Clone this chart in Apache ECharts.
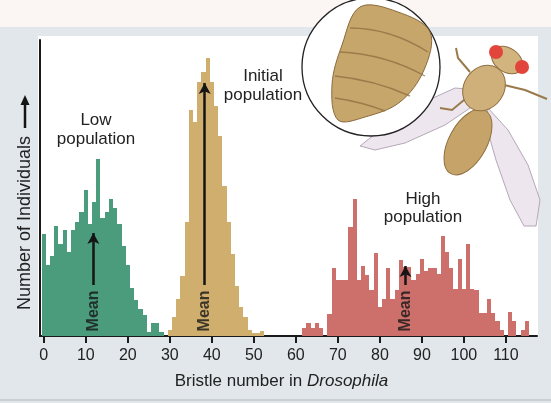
<!DOCTYPE html>
<html><head><meta charset="utf-8">
<script src="https://cdn.jsdelivr.net/npm/echarts@6/dist/echarts.min.js"></script>
<style>html,body{margin:0;padding:0;background:#e1e7eb}#c{width:551px;height:403px}</style>
</head><body><div id="c"></div>
<script>
// ---- data ----
const tickLabels = [0, 10, 20, 30, 40, 50, 60, 70, 80, 90, 100, 110];
const lowStart = 0;
const lowCounts = [102, 71, 80, 110, 92, 106, 84, 106, 114, 124, 146, 112, 134, 177, 118, 124, 137, 128, 112, 90, 71, 48, 36, 27, 21, 4, 13, 13, 4];
const initialStart = 30;
const initialCounts = [6, 19, 37, 60, 114, 226, 214, 254, 264, 278, 254, 230, 200, 150, 114, 82, 50, 29, 19, 6, 3, 3, 5];
const highStart = 62;
const highCounts = [8, 13, 8, 13, 8, 0, 22, 68, 56, 56, 56, 109, 137, 56, 70, 61, 46, 83, 29, 37, 68, 37, 46, 76, 69, 69, 56, 62, 77, 65, 68, 68, 62, 100, 84, 68, 47, 77, 47, 92, 47, 46, 23, 23, 37, 23, 15, 6, 0, 24, 15, 0, 6, 15];
const meanBristle = [11.8, 38.3, 86.1];
const meanArrowTop = [103, 253, 70];
const meanArrowBase = 51;
const meanLabelLevel = 25;
const annotations = ['Low\npopulation', 'Initial\npopulation', 'High\npopulation'];

const FONT = '"Liberation Sans", Arial, Helvetica, sans-serif';
const toPairs = (start, arr) => arr.map((v, i) => [start + i, v]);

function renderBin(params, api) {
  const x = api.value(0), h = api.value(1);
  const p0 = api.coord([x - 0.5, h]);
  const p1 = api.coord([x + 0.5, 0]);
  const x0 = Math.round(p0[0]), x1 = Math.round(p1[0]);
  return { type: 'rect', shape: { x: x0, y: p0[1], width: x1 - x0, height: p1[1] - p0[1] },
           style: { fill: api.visual('color') } };
}

const stripe = (x1, y1, cx, cy, x2, y2) => ({ type: 'bezierCurve', z: 32,
  shape: { x1: x1, y1: y1, cpx1: cx, cpy1: cy, x2: x2, y2: y2 },
  style: { fill: null, stroke: '#8a6a3c', lineWidth: 1.4, opacity: 0.7 } });

const chart = echarts.init(document.getElementById('c'), null, { renderer: 'canvas' });
chart.setOption({
  animation: false,
  backgroundColor: '#e1e7eb',
  textStyle: { fontFamily: FONT },
  grid: { left: 40, right: 14, top: 40, bottom: 67 },
  xAxis: {
    type: 'value', min: -0.9, max: 117.4,
    splitLine: { show: false },
    axisLine: { show: true, onZero: false, lineStyle: { color: '#1a1a1a', width: 2 } },
    axisTick: { show: true, customValues: tickLabels, length: 7, lineStyle: { color: '#1a1a1a', width: 2 } },
    axisLabel: { customValues: tickLabels, fontSize: 16, color: '#222', margin: 12, fontFamily: FONT },
    name: 'Bristle number in {i|Drosophila}', nameLocation: 'middle', nameGap: 37,
    nameTextStyle: { fontSize: 17, color: '#222', fontFamily: FONT, padding: [0, 14, 0, 0],
      rich: { i: { fontStyle: 'italic', fontSize: 17, color: '#222', fontFamily: FONT } } }
  },
  yAxis: {
    type: 'value', min: 0, max: 296,
    splitLine: { show: false }, axisTick: { show: false }, axisLabel: { show: false },
    axisLine: { show: true, onZero: false, lineStyle: { color: '#1a1a1a', width: 2 } },
    name: 'Number of Individuals', nameLocation: 'middle', nameRotate: 90, nameGap: 6,
    nameTextStyle: { fontSize: 18, color: '#222', fontFamily: FONT, padding: [0, 70, 0, 0] }
  },
  series: [
    { type: 'custom', name: 'Low population', renderItem: renderBin, itemStyle: { color: '#4b9b7d' },
      data: toPairs(lowStart, lowCounts), encode: { x: 0, y: 1 }, z: 2 },
    { type: 'custom', name: 'Initial population', renderItem: renderBin, itemStyle: { color: '#cfae6e' },
      data: toPairs(initialStart, initialCounts), encode: { x: 0, y: 1 }, z: 2 },
    { type: 'custom', name: 'High population', renderItem: renderBin, itemStyle: { color: '#cd6f6a' },
      data: toPairs(highStart, highCounts), encode: { x: 0, y: 1 }, z: 2 },
    { type: 'scatter', name: 'Mean', symbolSize: 0, z: 5, silent: true,
      data: meanBristle.map(m => [m, meanLabelLevel]),
      label: { show: true, position: 'inside', formatter: 'Mean', rotate: 90,
               fontSize: 16, fontWeight: 'bold', color: '#151515', fontFamily: FONT },
      markLine: { silent: true, symbol: ['none', 'arrow'], symbolSize: [9, 11],
        lineStyle: { color: '#151515', width: 2.5, type: 'solid' }, label: { show: false },
        data: meanBristle.map((m, i) => [{ coord: [m, meanArrowBase] }, { coord: [m, meanArrowTop[i]] }]) }
    }
  ],
  graphic: [
    // backgrounds
    { type: 'rect', z: -100, shape: { x: 0, y: 0, width: 551, height: 27 }, style: { fill: '#fbf6f3' } },
    { type: 'rect', z: -99, shape: { x: 38, y: 36, width: 500, height: 300 }, style: { fill: '#ffffff' } },
    { type: 'rect', z: -99, shape: { x: 0, y: 399, width: 551, height: 2 }, style: { fill: '#c9cfd3' } },
    // y axis name arrow
    { type: 'line', z: 10, shape: { x1: 25, y1: 128, x2: 25, y2: 104 }, style: { stroke: '#151515', lineWidth: 2.5 } },
    { type: 'polygon', z: 10, shape: { points: [[20.5, 105], [29.5, 105], [25, 95]] }, style: { fill: '#151515' } },
    // annotations
    { type: 'text', z: 10, x: 96, y: 130, style: { text: annotations[0], font: '17px ' + FONT, fill: '#222',
      textAlign: 'center', textVerticalAlign: 'middle', align: 'center', verticalAlign: 'middle', lineHeight: 19 } },
    { type: 'text', z: 10, x: 263, y: 86, style: { text: annotations[1], font: '17px ' + FONT, fill: '#222',
      textAlign: 'center', textVerticalAlign: 'middle', align: 'center', verticalAlign: 'middle', lineHeight: 19 } },
    { type: 'text', z: 10, x: 423, y: 208, style: { text: annotations[2], font: '17px ' + FONT, fill: '#222',
      textAlign: 'center', textVerticalAlign: 'middle', align: 'center', verticalAlign: 'middle', lineHeight: 18 } },
    // fly illustration (decoration)
    { type: 'polygon', z: 20, shape: { points: [[360, 146], [385, 126], [420, 104], [455, 88], [478, 90], [470, 108], [445, 125], [405, 143], [375, 150]] },
      style: { fill: '#eee6ef', stroke: '#b5a8b8', lineWidth: 1 } },
    { type: 'polygon', z: 20, shape: { points: [[488, 108], [508, 130], [528, 165], [540, 200], [536, 226], [524, 226], [510, 200], [496, 160], [486, 125]] },
      style: { fill: '#eee6ef', stroke: '#b5a8b8', lineWidth: 1 } },
    { type: 'polyline', z: 21, shape: { points: [[470, 72], [458, 58], [456, 48]] }, style: { stroke: '#9a7a4a', lineWidth: 2 } },
    { type: 'polyline', z: 21, shape: { points: [[500, 84], [525, 90], [547, 99]] }, style: { stroke: '#9a7a4a', lineWidth: 2 } },
    { type: 'polyline', z: 21, shape: { points: [[470, 95], [452, 110], [440, 108]] }, style: { stroke: '#9a7a4a', lineWidth: 2 } },
    { type: 'ellipse', z: 22, x: 468, y: 142, rotation: -0.5, shape: { cx: 0, cy: 0, rx: 19, ry: 36 },
      style: { fill: '#c6a469', stroke: '#8f7040', lineWidth: 1 } },
    { type: 'ellipse', z: 23, x: 484, y: 88, rotation: -0.6, shape: { cx: 0, cy: 0, rx: 20, ry: 24 },
      style: { fill: '#cfb07a', stroke: '#8f7040', lineWidth: 1 } },
    { type: 'ellipse', z: 24, x: 507, y: 60, rotation: -0.6, shape: { cx: 0, cy: 0, rx: 17, ry: 12 },
      style: { fill: '#d2b47e', stroke: '#8f7040', lineWidth: 1 } },
    { type: 'circle', z: 25, shape: { cx: 496, cy: 52, r: 7 }, style: { fill: '#e2453b' } },
    { type: 'circle', z: 25, shape: { cx: 522, cy: 67, r: 7 }, style: { fill: '#e2453b' } },
    // inset circle with abdomen
    { type: 'circle', z: 30, shape: { cx: 371, cy: 67, r: 69 }, style: { fill: '#ffffff', stroke: '#222', lineWidth: 1.3 } },
    { type: 'polygon', z: 31, shape: { smooth: 0.35, points: [[338, 120], [332, 85], [342, 45], [360, 7], [398, 12], [430, 32], [424, 70], [400, 102], [365, 117]] },
      style: { fill: '#c7a66c', stroke: '#8a6a3c', lineWidth: 1 } },
    stripe(350, 28, 390, 28, 428, 52),
    stripe(340, 52, 385, 54, 425, 76),
    stripe(335, 76, 375, 80, 410, 96),
    stripe(335, 98, 362, 102, 385, 111)
  ]
});
</script></body></html>
